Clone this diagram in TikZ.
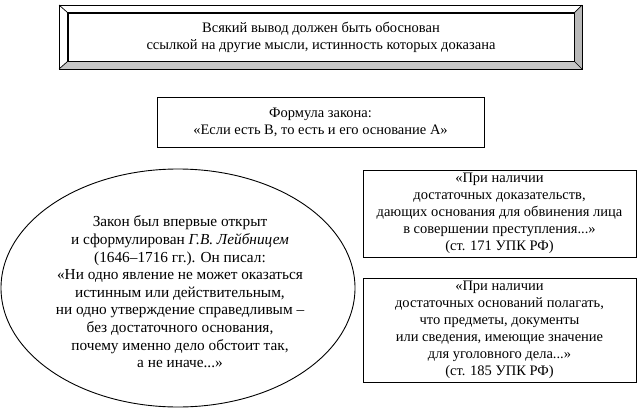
\documentclass[tikz,border=0pt]{standalone}
\usepackage{fontspec}
\setmainfont{Liberation Serif}
\usetikzlibrary{shapes.geometric}
\tikzset{
  txt/.style={align=center, font=\fontsize{14.5}{17}\selectfont, inner sep=0pt},
  frame/.style={draw, line width=0.9pt, txt},
}
\begin{document}
\begin{tikzpicture}[x=1pt,y=-1pt]
  \useasboundingbox (0,0) rectangle (641,410);
  % bevelled top box
  \node[frame, minimum width=506pt, minimum height=48pt] (law) at (321,37)
    {Всякий вывод должен быть обоснован\\
     ссылкой на другие мысли, истинность которых доказана};
  \coordinate (onw) at (59,5);
  \coordinate (one) at (582,5);
  \coordinate (ose) at (582,69);
  \coordinate (osw) at (59,69);
  \fill[gray!45] (law.south west) -- (law.south east) -- (ose) -- (osw) -- cycle;
  \fill[gray!55] (law.north east) -- (one) -- (ose) -- (law.south east) -- cycle;
  \draw[line width=0.9pt] (onw) rectangle (ose);
  \draw[line width=0.9pt] (law.north west) rectangle (law.south east);
  \foreach \a/\b in {onw/north west, one/north east, ose/south east, osw/south west}
    \draw[line width=0.7pt] (\a) -- (law.\b);
  % formula
  \node[frame, minimum width=327pt, minimum height=50pt] (formula) at (320.5,122.5)
    {Формула закона:\\
     «Если есть В, то есть и его основание А»};
  % Leibniz
  \node[draw, line width=0.9pt, ellipse, minimum width=354pt, minimum height=238pt,
        inner sep=0pt] (leibniz) at (178,288) {};
  \node[txt, font=\fontsize{15.3}{17.6}\selectfont] (quote) at (180,292)
    {Закон был впервые открыт\\
     и сформулирован \textit{Г.В. Лейбницем}\\
     (1646–1716 гг.). Он писал:\\
     «Ни одно явление не может оказаться\\
     истинным или действительным,\\
     ни одно утверждение справедливым –\\
     без достаточного основания,\\
     почему именно дело обстоит так,\\
     а не иначе...»};
  % articles of the code
  \node[frame, minimum width=273pt, minimum height=87pt] (art171) at (499.5,213.5)
    {«При наличии\\
     достаточных доказательств,\\
     дающих основания для обвинения лица\\
     в совершении преступления...»\\
     (ст. 171 УПК РФ)};
  \node[frame, minimum width=273pt, minimum height=104pt] (art185) at (499.5,330)
    {«При наличии\\
     достаточных оснований полагать,\\
     что предметы, документы\\
     или сведения, имеющие значение\\
     для уголовного дела...»\\
     (ст. 185 УПК РФ)};
\end{tikzpicture}
\end{document}
